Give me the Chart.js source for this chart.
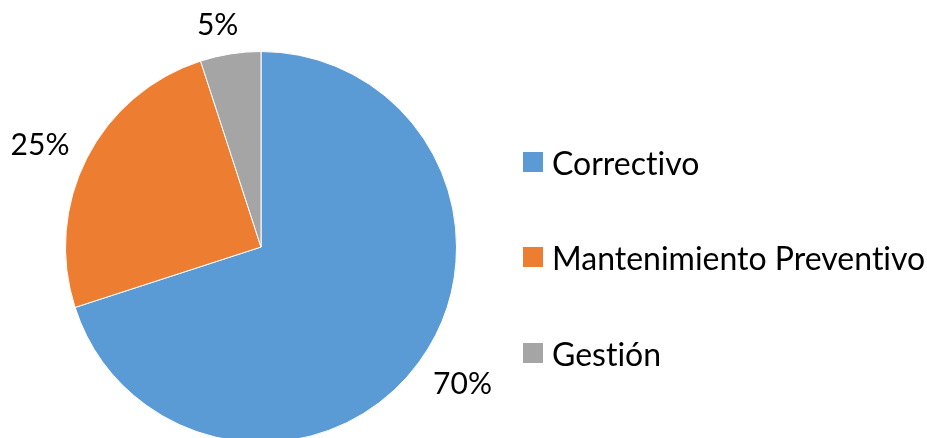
<!DOCTYPE html>
<html>
<head>
<meta charset="utf-8">
<script src="https://cdn.jsdelivr.net/npm/chart.js@4.4.1/dist/chart.umd.min.js"></script>
<style>
  html, body { margin: 0; padding: 0; background: #fff; overflow: hidden; }
  #wrap { position: absolute; left: 0; top: 0; width: 927px; height: 494px; }
  .leg-item { position: absolute; left: 523px; height: 40px; display: flex; align-items: center;
              font-family: Lato, 'Open Sans', sans-serif; font-size: 32px; color: #000; white-space: nowrap;
              font-variant-ligatures: none; }
  .leg-box { width: 20px; height: 20px; margin-right: 9px; flex: none; }
</style>
</head>
<body>
<div id="wrap"><canvas id="pie"></canvas></div>
<div id="legend"></div>
<script>
// Datos del gráfico
const categories = ['Correctivo', 'Mantenimiento Preventivo', 'Gestión'];
const values = [70, 25, 5];
const colors = ['#5B9BD5', '#ED7D31', '#A5A5A5'];

// Etiquetas fuera de cada porción (estilo Excel: un poco giradas hacia la izquierda)
const outsideLabels = {
  id: 'outsideLabels',
  afterDatasetsDraw(chart) {
    const ctx = chart.ctx;
    const meta = chart.getDatasetMeta(0);
    const capH = 22;
    ctx.save();
    ctx.font = '30px Lato';
    ctx.fillStyle = '#000';
    ctx.textAlign = 'center';
    ctx.textBaseline = 'alphabetic';
    meta.data.forEach((arc, i) => {
      const p = arc.getProps(['x', 'y', 'startAngle', 'endAngle', 'outerRadius'], true);
      const mid = (p.startAngle + p.endAngle) / 2 - 0.035;
      const dx = Math.cos(mid), dy = Math.sin(mid);
      const text = values[i] + '%';
      const w = ctx.measureText(text).width;
      const d = p.outerRadius + 17 + Math.abs(dx) * w / 2 + Math.abs(dy) * capH / 2;
      ctx.fillText(text, p.x + dx * d, p.y + dy * d + capH / 2);
    });
    ctx.restore();
  }
};

new Chart(document.getElementById('pie'), {
  type: 'pie',
  data: {
    labels: categories,
    datasets: [{ data: values, backgroundColor: colors, borderColor: '#fff', borderWidth: 1 }]
  },
  options: {
    responsive: true,
    maintainAspectRatio: false,
    animation: false,
    layout: { padding: { top: 51, bottom: 51, left: 65, right: 470 } },
    plugins: { legend: { display: false }, tooltip: { enabled: false } }
  },
  plugins: [outsideLabels]
});

// Leyenda a la derecha
const legendTops = [142, 237, 333];
const legend = document.getElementById('legend');
categories.forEach((c, i) => {
  const item = document.createElement('div');
  item.className = 'leg-item';
  item.style.top = legendTops[i] + 'px';
  item.innerHTML = `<span class="leg-box" style="background:${colors[i]}"></span><span>${c}</span>`;
  legend.appendChild(item);
});
</script>
</body>
</html>
